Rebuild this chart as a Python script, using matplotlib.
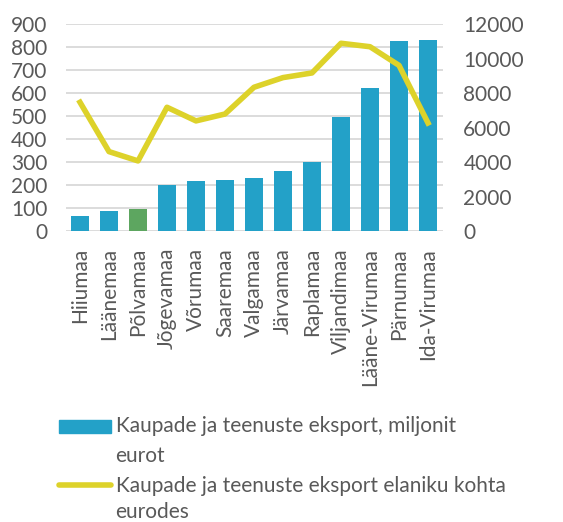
import matplotlib
matplotlib.use('Agg')
import matplotlib.pyplot as plt
from matplotlib.patches import Rectangle
from matplotlib.lines import Line2D

# data
regions = ['Hiiumaa', 'Läänemaa', 'Põlvamaa', 'Jõgevamaa', 'Võrumaa', 'Saaremaa',
           'Valgamaa', 'Järvamaa', 'Raplamaa', 'Viljandimaa', 'Lääne-Virumaa',
           'Pärnumaa', 'Ida-Virumaa']
export_mln = [67, 90, 97, 200, 220, 223, 232, 262, 301, 497, 623, 828, 832]
export_per_cap = [7480, 4620, 4080, 7190, 6400, 6800, 8350, 8910, 9180, 10900,
                  10700, 9620, 6280]
highlight = 'Põlvamaa'

label_bar = 'Kaupade ja teenuste eksport, miljonit'
label_bar2 = 'eurot'
label_line = 'Kaupade ja teenuste eksport elaniku kohta'
label_line2 = 'eurodes'

blue = '#23A1C8'
green = '#5DA660'
yellow = '#DDD22A'
grey = '#595959'

plt.rcParams['font.family'] = ['Lato', 'DejaVu Sans']
fs = 15

W, H = 563, 522
fig = plt.figure(figsize=(W / 100, H / 100), dpi=100)
ax = fig.add_axes([65.5 / W, 1 - 231.3 / H, 377 / W, 207 / H])

x = range(len(regions))
colors = [green if r == highlight else blue for r in regions]
ax.bar(x, export_mln, width=0.61, color=colors, zorder=2)
ax.set_ylim(0, 900)
ax.set_yticks(range(0, 901, 100))
ax.set_xlim(-0.5, len(regions) - 0.5)
ax.set_xticks(list(x))
ax.set_xticklabels(regions, rotation=90)
ax.yaxis.grid(True, color='#D9D9D9', linewidth=1.3, zorder=0)
ax.set_axisbelow(True)
for s in ax.spines.values():
    s.set_visible(False)
ax.tick_params(axis='y', length=0, pad=13, labelsize=fs, labelcolor=grey)
ax.tick_params(axis='x', length=0, pad=12, labelsize=fs, labelcolor=grey)

ax2 = ax.twinx()
ax2.plot(x, export_per_cap, color=yellow, linewidth=4, solid_joinstyle='round', zorder=3)
ax2.set_ylim(0, 12000)
ax2.set_yticks(range(0, 12001, 2000))
for s in ax2.spines.values():
    s.set_visible(False)
ax2.tick_params(axis='y', length=0, pad=15, labelsize=fs, labelcolor=grey)

# legend drawn by hand so the key sits beside the first text line
def fy(px):
    return 1 - px / H

fig.patches.append(Rectangle((59 / W, fy(433)), 52 / W, 13.5 / H,
                             transform=fig.transFigure, color=blue))
fig.lines.append(Line2D([58.5 / W, 110.5 / W], [fy(485), fy(485)],
                        transform=fig.transFigure, color=yellow, linewidth=4,
                        solid_capstyle='round'))
for txt, base in [(label_bar, 432.5), (label_bar2, 461.5),
                  (label_line, 491.5), (label_line2, 517.5)]:
    fig.text(115.5 / W, fy(base), txt, fontsize=fs, color=grey, va='baseline')

fig.savefig('out.png', dpi=100)
